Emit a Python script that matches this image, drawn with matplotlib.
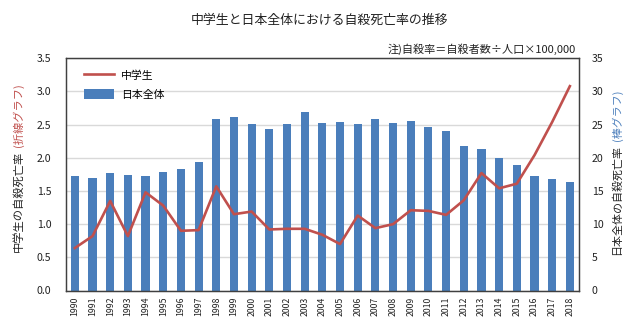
import matplotlib
matplotlib.use("Agg")
import matplotlib.pyplot as plt
import numpy as np

plt.rcParams['font.family'] = ['Noto Sans CJK JP', 'DejaVu Sans']

years = list(range(1990, 2019))
# 日本全体の自殺死亡率 (人口10万人あたり)
japan_rate = [17.2, 16.9, 17.7, 17.4, 17.2, 17.8, 18.3, 19.3, 25.9, 26.1,
              25.1, 24.3, 25.1, 26.9, 25.2, 25.4, 25.1, 25.8, 25.2, 25.6,
              24.7, 24.0, 21.8, 21.4, 19.9, 18.9, 17.2, 16.8, 16.4]
# 中学生の自殺死亡率
jhs_rate = [0.64, 0.82, 1.35, 0.82, 1.48, 1.28, 0.90, 0.91, 1.57, 1.15,
            1.19, 0.92, 0.93, 0.93, 0.84, 0.70, 1.13, 0.94, 1.00, 1.21,
            1.20, 1.14, 1.36, 1.77, 1.54, 1.61, 2.04, 2.54, 3.08]
left_ticks = [0.0, 0.5, 1.0, 1.5, 2.0, 2.5, 3.0, 3.5]
right_ticks = [0, 5, 10, 15, 20, 25, 30, 35]

RED = '#c0504d'
BLUE = '#4a7ebb'

W, H = 640, 323
fig = plt.figure(figsize=(W / 100, H / 100), dpi=100)
ax = fig.add_axes([66 / W, 1 - 290.5 / H, (578.7 - 66) / W, (290.5 - 58.3) / H])
ax2 = ax.twinx()

x = np.arange(len(years))

# bars (right axis)
bars = ax2.bar(x, japan_rate, width=0.46, color=BLUE, zorder=2, label='日本全体')
ax2.set_ylim(0, 35)
ax2.set_yticks(right_ticks)
ax2.set_yticklabels([str(t) for t in right_ticks])
ax2.set_axisbelow(True)
ax2.yaxis.grid(True, color='#d9d9d9', linewidth=1.0, zorder=0)

# line (left axis), drawn above the bars
ax.set_zorder(ax2.get_zorder() + 1)
ax.patch.set_visible(False)
line, = ax.plot(x, jhs_rate, color=RED, linewidth=1.9, solid_joinstyle='round',
                label='中学生', zorder=3)
ax.set_ylim(0, 3.5)
ax.set_yticks(left_ticks)
ax.set_yticklabels([f'{t:.1f}' for t in left_ticks])
ax.set_xlim(-0.5, len(years) - 0.5)
ax.set_xticks(x)
ax.set_xticklabels([str(y) for y in years], rotation=90, fontsize=6.3)

for a in (ax, ax2):
    for s in a.spines.values():
        s.set_color('#404040')
        s.set_linewidth(0.9)
ax.tick_params(axis='y', length=0, pad=10.5, labelsize=7.6, colors='#222222')
ax2.tick_params(axis='y', length=0, pad=9.5, labelsize=7.6, colors='#222222')
ax.tick_params(axis='x', length=0, pad=4.5, colors='#222222')
ax2.tick_params(axis='x', length=0)

# legend
ax.legend([line, bars], ['中学生', '日本全体'], loc='upper left',
          bbox_to_anchor=(0.035, 0.95), frameon=False, fontsize=7.8,
          handlelength=2.8, handleheight=1.1, handletextpad=0.6,
          labelspacing=0.75, borderpad=0, borderaxespad=0)

# title and note
fig.text(320 / W, 1 - 20 / H, '中学生と日本全体における自殺死亡率の推移',
         ha='center', va='center', fontsize=9.3, color='#222222')
fig.text(576 / W, 1 - 49 / H, '注)自殺率＝自殺者数÷人口×100,000',
         ha='right', va='center', fontsize=8.0, color='#222222')

# y-axis labels in two colours
tl = fig.text(18.5 / W, 1 - 252 / H, '中学生の自殺死亡率', rotation=90,
              ha='center', va='bottom', fontsize=8.1, color='#222222')
ax.annotate('(折線グラフ)', xy=(0.5, 1), xycoords=tl, xytext=(0, 3),
            textcoords='offset points', rotation=90, ha='center', va='bottom',
            fontsize=8.1, color=RED, annotation_clip=False)
tr = fig.text(617 / W, 1 - 255 / H, '日本全体の自殺死亡率', rotation=90,
              ha='center', va='bottom', fontsize=7.9, color='#222222')
ax.annotate('(棒グラフ)', xy=(0.5, 1), xycoords=tr, xytext=(0, 3),
            textcoords='offset points', rotation=90, ha='center', va='bottom',
            fontsize=7.9, color='#4f81bd', annotation_clip=False)

fig.savefig('out.png', dpi=100, facecolor='white')
